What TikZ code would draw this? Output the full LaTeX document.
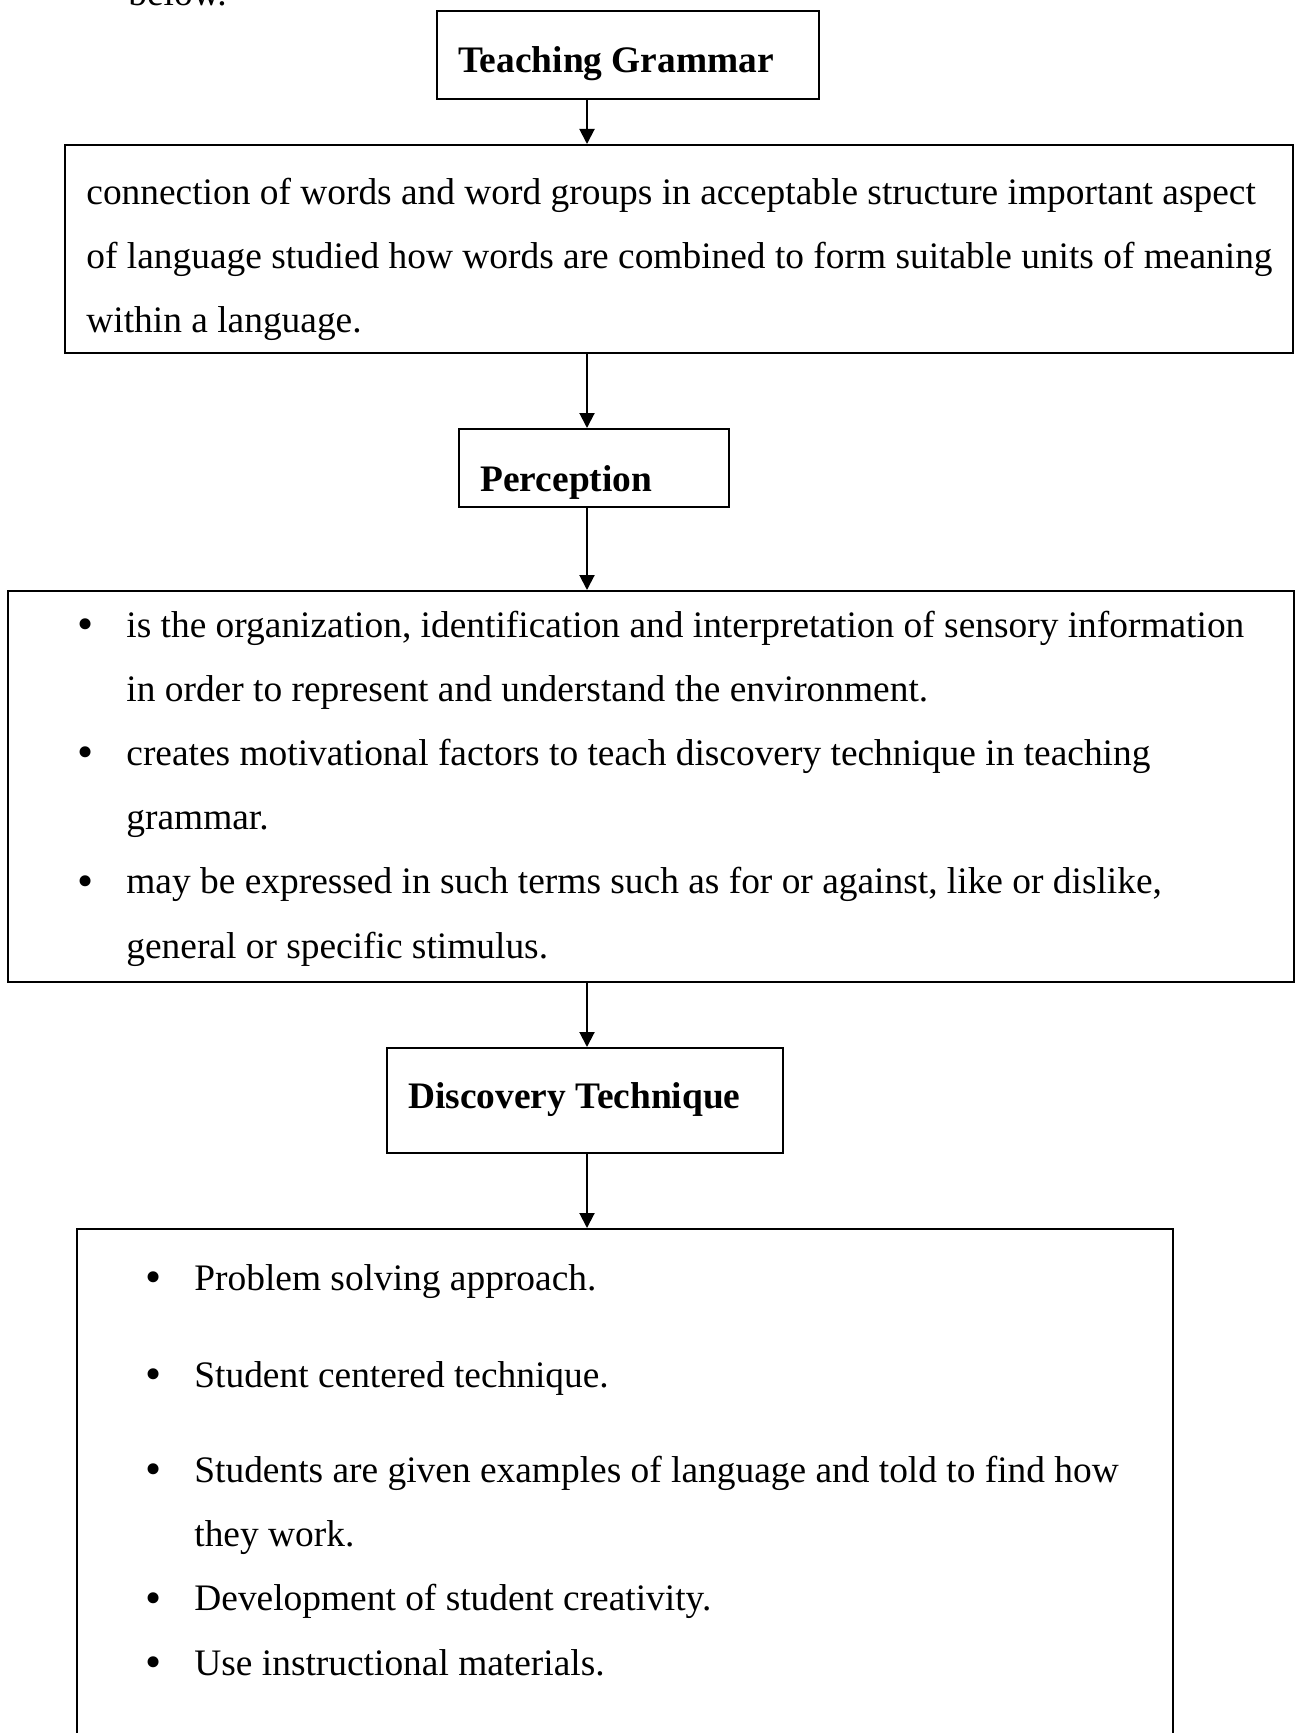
\documentclass[tikz,border=0pt]{standalone}
\usepackage{fontspec}
\setmainfont{Liberation Serif}
\usetikzlibrary{arrows.meta}
\tikzset{
  flowbox/.style={draw, line width=1pt, inner sep=0pt},
  headtxt/.style={anchor=base west, inner sep=0pt, font=\fontsize{18.7}{32.1}\selectfont\bfseries},
  bodytxt/.style={anchor=base west, inner sep=0pt, align=left, font=\fontsize{18.7}{32.1}\selectfont},
  flowarrow/.style={line width=1pt, -{Triangle[length=7.5pt,width=7.5pt]}}
}
\newcommand{\itembul}{\makebox[24.5pt][l]{\raisebox{-1.2pt}{\fontsize{23}{23}\selectfont\textbullet}}}
\newcommand{\bulind}{\hspace*{24.5pt}}

\begin{document}
\begin{tikzpicture}[x=0.5pt,y=-0.5pt]
        \useasboundingbox (0,0) rectangle (1297,1733);
        \clip (0,0) rectangle (1297,1733);
        % boxes
        \draw (628,55) node[flowbox, minimum width=191pt, minimum height=44pt](tg) {};
        \draw (679,249) node[flowbox, minimum width=614pt, minimum height=104pt](def) {};
        \draw (594,468) node[flowbox, minimum width=135pt, minimum height=39pt](perc) {};
        \draw (651,786.5) node[flowbox, minimum width=643pt, minimum height=195.5pt](percdef) {};
        \draw (585,1100.5) node[flowbox, minimum width=198pt, minimum height=52.5pt](disc) {};
        \draw (625,1514.5) node[flowbox, minimum width=548pt, minimum height=285.5pt](discdef) {};
        % texts (multi-line ones sit on their last baseline)
        \draw (128,6) node[bodytxt](prev) {below.};
        \draw (458,73) node[headtxt](tgtxt) {Teaching Grammar};
        \draw (86,333) node[bodytxt](deftxt) {connection of words and word groups in acceptable structure important aspect\\
          of language studied how words are combined to form suitable units of meaning\\
          within a language.};
        \draw (480,491) node[headtxt](perctxt) {Perception};
        \draw (77,958) node[bodytxt](percdeftxt) {\itembul is the organization, identification and interpretation of sensory information\\
          \bulind in order to represent and understand the environment.\\
          \itembul creates motivational factors to teach discovery technique in teaching\\
          \bulind grammar.\\
          \itembul may be expressed in such terms such as for or against, like or dislike,\\
          \bulind general or specific stimulus.};
        \draw (408,1108) node[headtxt](disctxt) {Discovery Technique};
        \draw (145,1675) node[bodytxt](discdeftxt) {\itembul Problem solving approach.\\[16.5pt]
          \itembul Student centered technique.\\[15.5pt]
          \itembul Students are given examples of language and told to find how\\
          \bulind they work.\\
          \itembul Development of student creativity.\\
          \itembul Use instructional materials.};
        % arrows
        \coordinate (ax) at (587,0);
        \draw[flowarrow] (tg.south -| ax) -- (def.north -| ax);
        \draw[flowarrow] (def.south -| ax) -- (perc.north -| ax);
        \draw[flowarrow] (perc.south -| ax) -- (percdef.north -| ax);
        \draw[flowarrow] (percdef.south -| ax) -- (disc.north -| ax);
        \draw[flowarrow] (disc.south -| ax) -- (discdef.north -| ax);
\end{tikzpicture}
\end{document}
